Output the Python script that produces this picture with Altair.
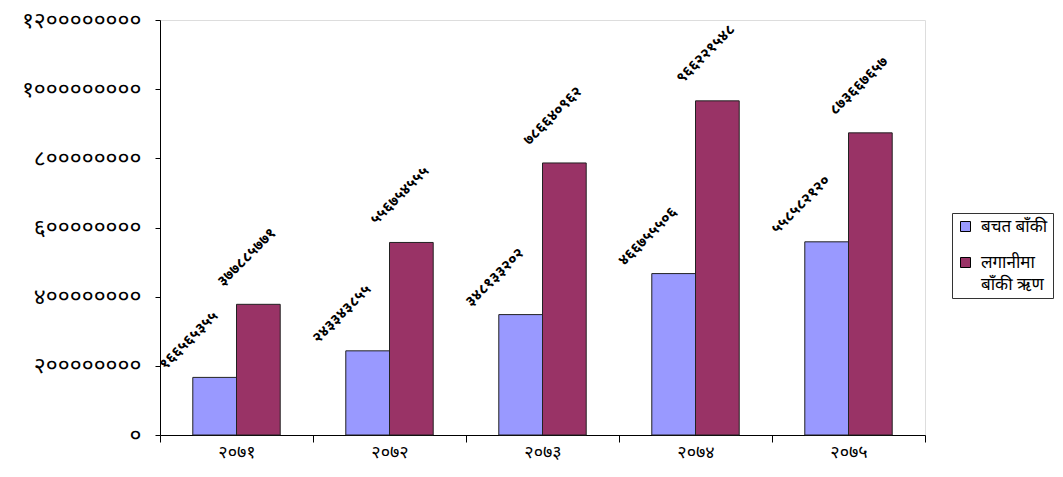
import altair as alt
import pandas as pd

years = ['२०७१', '२०७२', '२०७३', '२०७४', '२०७५']
series_names = ['बचत बाँकी', 'लगानीमा बाँकी ऋण']
savings = [166565355, 243343855, 348133202, 466755506, 558582120]
loans = [377885771, 556754555, 786640962, 966221548, 873667657]
y_ticks = [0, 200000000, 400000000, 600000000, 800000000, 1000000000, 1200000000]
colors = ['#9999FF', '#993366']

DEV = str.maketrans('0123456789', '०१२३४५६७८९')
rows = []
for i, yr in enumerate(years):
    rows.append(dict(year=yr, series=series_names[0], value=savings[i],
                     label=str(savings[i]).translate(DEV)))
    rows.append(dict(year=yr, series=series_names[1], value=loans[i],
                     label=str(loans[i]).translate(DEV)))
df = pd.DataFrame(rows)

FONT = "Noto Sans Devanagari, Noto Sans, sans-serif"

expr = "datum.label"
for d, dv in zip('0123456789', '०१२३४५६७८९'):
    expr = f"join(split({expr}, '{d}'), '{dv}')"

legend_expr = ("datum.label == 'लगानीमा बाँकी ऋण' ? ['लगानीमा', '    बाँकी ऋण'] : datum.label")

x_enc = alt.X('year:N', sort=years, title=None,
              scale=alt.Scale(paddingInner=0, paddingOuter=0),
              axis=alt.Axis(labelAngle=0, tickBand='extent',
                            tickSize=7, tickColor='#000', domainColor='#000',
                            labelFont=FONT, labelFontSize=18, labelPadding=1,
                            labelColor='#000'))
xo_enc = alt.XOffset('series:N', sort=series_names,
                     scale=alt.Scale(paddingOuter=0.75, paddingInner=0))
y_enc = alt.Y('value:Q', title=None,
              scale=alt.Scale(domain=[0, 1200000000], nice=False),
              axis=alt.Axis(values=y_ticks, format='d', labelExpr=expr,
                            grid=False, tickSize=5, tickColor='#000',
                            domainColor='#000', labelFont=FONT,
                            labelFontSize=23, labelPadding=14,
                            labelColor='#000'))
color_enc = alt.Color('series:N', sort=series_names,
                      scale=alt.Scale(domain=series_names, range=colors),
                      legend=alt.Legend(title=None, orient='none', legendX=792,
                                        legendY=193, strokeColor='#333',
                                        padding=5, labelFont=FONT,
                                        labelFontSize=17, labelColor='#000',
                                        labelOffset=7,
                                        symbolType='square', symbolSize=100,
                                        symbolStrokeColor='#000',
                                        symbolStrokeWidth=1, rowPadding=18,
                                        labelExpr=legend_expr, labelLimit=200))

bars = alt.Chart(df).mark_bar(stroke='#222', strokeWidth=1).encode(
    x=x_enc, xOffset=xo_enc, y=y_enc, color=color_enc)

lab_blue = alt.Chart(df).transform_filter(
    alt.datum.series == series_names[0]).mark_text(
    angle=315, dx=8, dy=-45, font=FONT, fontSize=15, fontWeight='bold',
    color='#000').encode(x=alt.X('year:N', sort=years), xOffset=xo_enc,
                         y='value:Q', text='label:N')
lab_red = alt.Chart(df).transform_filter(
    alt.datum.series == series_names[1]).mark_text(
    angle=315, dx=25, dy=-42, font=FONT, fontSize=15, fontWeight='bold',
    color='#000').encode(x=alt.X('year:N', sort=years), xOffset=xo_enc,
                         y='value:Q', text='label:N')

chart = alt.layer(bars, lab_blue, lab_red).properties(
    width=765, height=415,
    autosize=alt.AutoSizeParams(type='none'),
    padding={'left': 152, 'top': 12, 'right': 130, 'bottom': 33},
).configure_view(stroke='#888', strokeWidth=1).configure(
    background='white', style={'guide-label': {'lineHeight': 22}})

chart.save("out.html", embed_options={"renderer": "svg", "actions": False})
